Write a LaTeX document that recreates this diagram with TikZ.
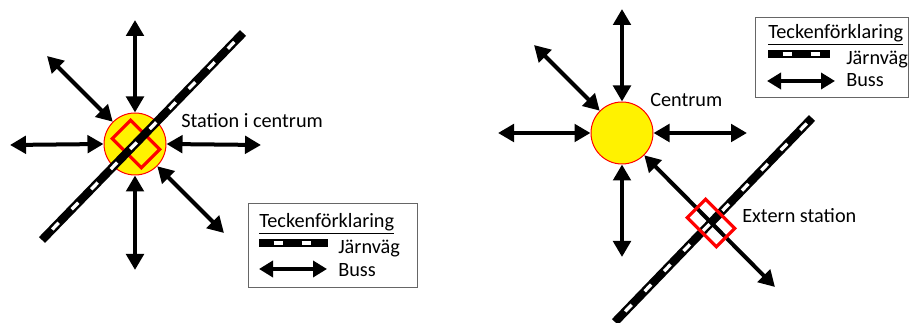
\documentclass[tikz,border=0pt]{standalone}
\usepackage{fontspec}
\setmainfont{Carlito}
\usetikzlibrary{arrows.meta}
\begin{document}
\begin{tikzpicture}[x=0.75pt,y=-0.75pt,
  bus/.style={line width=3pt,{Triangle[length=12pt,width=13pt]}-{Triangle[length=12pt,width=13pt]}},
  legbus/.style={line width=3pt,{Triangle[length=10.5pt,width=12pt]}-{Triangle[length=10.5pt,width=12pt]}},
  rail/.style={line width=6.3pt,postaction={draw=white,line width=2.5pt,dash pattern=on 7pt off 14pt,dash phase=10pt}},
  centre/.style={circle,draw=red,line width=0.75pt,fill=yellow,minimum size=46.5pt,inner sep=0pt},
  station/.style={draw=red,line width=2.4pt,minimum width=31pt,minimum height=19.5pt,inner sep=0pt,rotate=-45},
  lab/.style={font=\fontsize{15.2}{18}\selectfont,inner sep=0pt,anchor=base west},
  legbox/.style={draw=black!60,line width=0.8pt,anchor=north west,inner sep=0pt}
]
\useasboundingbox (0,0) rectangle (911,323);

% ---------- left diagram ----------
\node[centre] (c1) at (135,144) {};
\node[station] (s1) at (136,144) {};
\coordinate (u1) at (135,20);
\coordinate (d1) at (135,270);
\coordinate (w1) at (10,145);
\coordinate (e1) at (261,145);
\coordinate (nw1) at (47,56);
\coordinate (se1) at (224,233);
\draw[bus] (u1) -- (c1.north);
\draw[bus] (c1.south) -- (d1);
\draw[bus] (w1) -- (c1.west);
\draw[bus] (c1.east) -- (e1);
\draw[bus] (nw1) -- (c1.135);
\draw[bus] (c1.-45) -- (se1);
\coordinate (ra1) at (42,240);
\coordinate (rb1) at (243,33);
\draw[rail] (ra1) -- (rb1);
\node[lab] (t1) at (181,128) {Station i centrum};

% legend left
\node[legbox,minimum width=126.75pt,minimum height=63pt] (leg1) at (248,203) {};
\node[lab] (h1) at (259,227.5) {\underline{Teckenförklaring}};
\coordinate (lra1) at (259,243);
\coordinate (lrb1) at (328,243);
\draw[rail] (lra1) -- (lrb1);
\node[lab] (j1) at (338,254) {Järnväg};
\coordinate (lba1) at (259,269);
\coordinate (lbb1) at (327,269);
\draw[legbus] (lba1) -- (lbb1);
\node[lab] (b1) at (338,277) {Buss};

% ---------- right diagram ----------
\node[centre] (c2) at (622,133) {};
\coordinate (u2) at (622,9);
\coordinate (d2) at (622,257);
\coordinate (w2) at (498,133);
\coordinate (e2) at (747,133);
\coordinate (nw2) at (534,45);
\coordinate (se2) at (775,287);
\draw[bus] (u2) -- (c2.north);
\draw[bus] (c2.south) -- (d2);
\draw[bus] (w2) -- (c2.west);
\draw[bus] (c2.east) -- (e2);
\draw[bus] (nw2) -- (c2.135);
\draw[bus] (c2.-45) -- (se2);
\coordinate (ra2) at (615,322);
\coordinate (rb2) at (812,118);
\draw[rail] (ra2) -- (rb2);
\node[station] (s2) at (711,223) {};
\node[lab] (t2) at (650,107) {Centrum};
\node[lab] (t3) at (742,223) {Extern station};

% legend right
\node[legbox,minimum width=114.75pt,minimum height=60pt] (leg2) at (755,17) {};
\node[lab] (h2) at (768,39) {\underline{Teckenförklaring}};
\coordinate (lra2) at (768,54);
\coordinate (lrb2) at (830,54);
\draw[rail] (lra2) -- (lrb2);
\node[lab] (j2) at (846,65) {Järnväg};
\coordinate (lba2) at (767,81);
\coordinate (lbb2) at (835,81);
\draw[legbus] (lba2) -- (lbb2);
\node[lab] (b2) at (846,87) {Buss};
\end{tikzpicture}
\end{document}
